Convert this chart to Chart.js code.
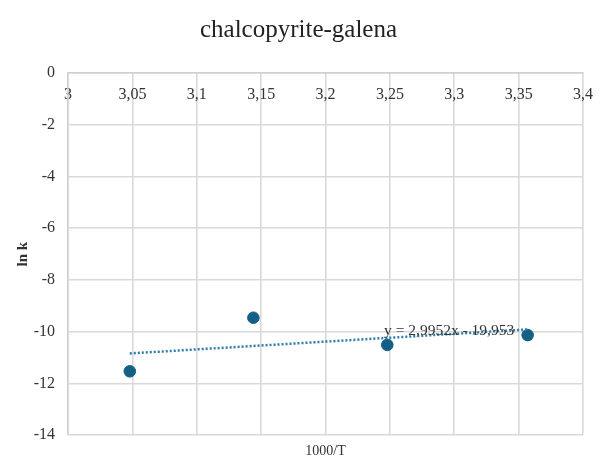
<!DOCTYPE html>
<html>
<head>
<meta charset="utf-8">
<script src="https://cdn.jsdelivr.net/npm/chart.js@4"></script>
<style>
html,body{margin:0;padding:0;background:#fff;}
#wrap{width:600px;height:460px;}
</style>
</head>
<body>
<div id="wrap"><canvas id="c" width="600" height="460"></canvas></div>
<script>
// Data
const xValues = [3.048, 3.144, 3.248, 3.357];
const lnK = [-11.53, -9.46, -10.51, -10.13];
const trendX = [3.048, 3.357];
const trendY = [-10.84, -9.91];
const equationText = "y = 2,9952x - 19,953";
const equationAnchor = [3.296, -9.96];
const xTickValues = [3, 3.05, 3.1, 3.15, 3.2, 3.25, 3.3, 3.35, 3.4];
const xTickLabels = ["3", "3,05", "3,1", "3,15", "3,2", "3,25", "3,3", "3,35", "3,4"];
const yTickLabels = ["0", "-2", "-4", "-6", "-8", "-10", "-12", "-14"];

const serif = "'Liberation Serif', 'Times New Roman', serif";

const equationPlugin = {
  id: 'equationLabel',
  afterDatasetsDraw(chart) {
    const {ctx, scales} = chart;
    const px = scales.x.getPixelForValue(equationAnchor[0]);
    const py = scales.y.getPixelForValue(equationAnchor[1]);
    ctx.save();
    ctx.font = "15.5px " + serif;
    ctx.fillStyle = "#333333";
    ctx.textAlign = "center";
    ctx.textBaseline = "middle";
    ctx.fillText(equationText, px, py);
    ctx.restore();
  }
};

function noSidePadding(scale) {
  scale.paddingLeft = 0;
  scale.paddingRight = 0;
}

new Chart(document.getElementById('c'), {
  type: 'scatter',
  data: {
    datasets: [
      {
        label: 'trend',
        type: 'line',
        data: trendX.map((x, i) => ({x: x, y: trendY[i]})),
        borderColor: '#2b7bab',
        borderWidth: 2.5,
        borderDash: [2, 2],
        pointRadius: 0,
        fill: false
      },
      {
        label: 'ln k',
        data: xValues.map((x, i) => ({x: x, y: lnK[i]})),
        backgroundColor: '#155f85',
        borderColor: '#155f85',
        pointRadius: 5.8,
        pointHoverRadius: 5.8
      }
    ]
  },
  options: {
    responsive: false,
    animation: false,
    layout: {padding: {left: 14, right: 17, top: 0, bottom: 0}},
    plugins: {
      legend: {display: false},
      tooltip: {enabled: false},
      title: {
        display: true,
        text: 'chalcopyrite-galena',
        color: '#222222',
        font: {family: serif, size: 25, weight: 'normal', lineHeight: 1.2},
        padding: {top: 15, bottom: 28}
      }
    },
    scales: {
      x: {
        type: 'linear',
        position: {y: 0},
        min: 3,
        max: 3.4,
        afterFit: noSidePadding,
        afterBuildTicks(scale) {
          scale.ticks = xTickValues.map(v => ({value: v}));
        },
        ticks: {
          color: '#333333',
          font: {family: serif, size: 16},
          padding: 12,
          maxRotation: 0,
          autoSkip: false,
          callback: (v, i) => xTickLabels[i]
        },
        grid: {color: '#d9d9d9', lineWidth: 1.6, drawTicks: false},
        border: {color: '#d0d0d0', width: 1.6}
      },
      x2: {
        type: 'linear',
        position: 'bottom',
        min: 3,
        max: 3.4,
        afterFit: noSidePadding,
        ticks: {display: false},
        grid: {display: false, drawTicks: false},
        border: {display: false},
        title: {
          display: true,
          text: '1000/T',
          color: '#333333',
          font: {family: serif, size: 14, lineHeight: 1.2},
          padding: {top: 8, bottom: 0}
        }
      },
      y: {
        type: 'linear',
        min: -14,
        max: 0,
        afterFit(scale) { scale.width = 54; },
        ticks: {
          stepSize: 2,
          color: '#333333',
          font: {family: serif, size: 16},
          padding: 13,
          callback: (v) => yTickLabels[Math.round(-v / 2)]
        },
        grid: {color: '#d9d9d9', lineWidth: 1.6, drawTicks: false},
        border: {color: '#d0d0d0', width: 1.6},
        title: {
          display: true,
          text: 'ln k',
          color: '#333333',
          font: {family: serif, size: 15, weight: 'bold', lineHeight: 1.2},
          padding: {top: 0, bottom: 0}
        }
      }
    }
  },
  plugins: [equationPlugin]
});
</script>
</body>
</html>
